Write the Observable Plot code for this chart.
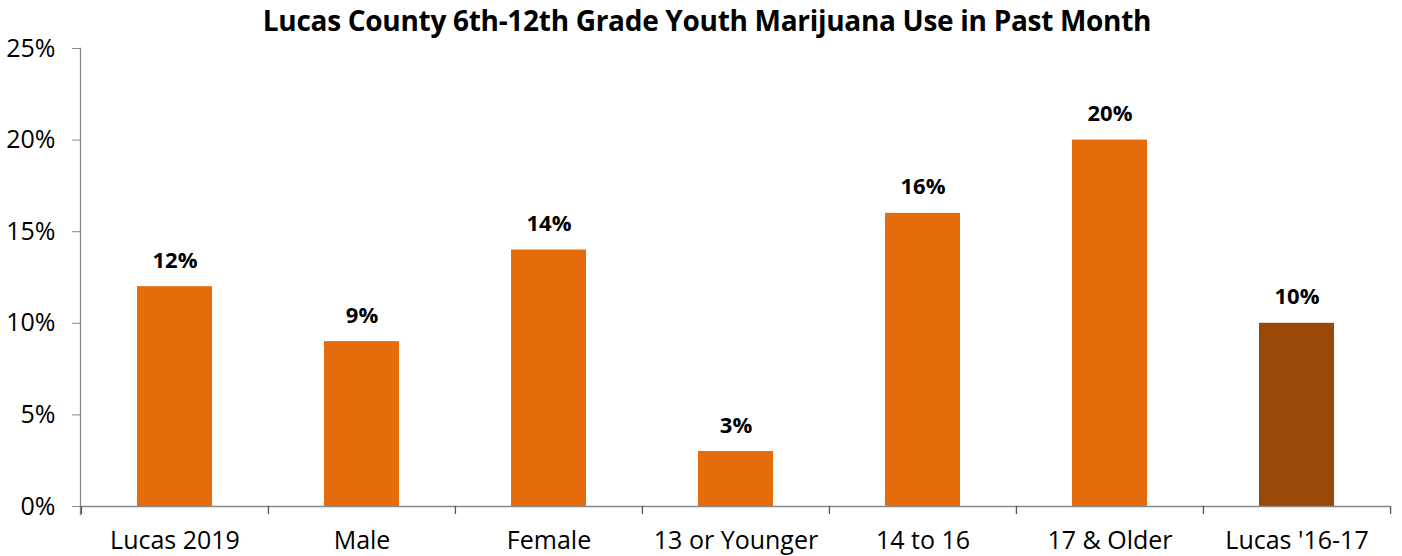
<!DOCTYPE html>
<html>
<head>
<meta charset="utf-8">
<script src="https://cdn.jsdelivr.net/npm/d3@7"></script>
<script src="https://cdn.jsdelivr.net/npm/@observablehq/plot@0.6"></script>
<style>
  html, body { margin: 0; padding: 0; background: #fff; }
  #wrap { position: relative; width: 1402px; height: 556px; }
  #title { position: absolute; top: 0; left: 0; width: 1402px; padding-left: 12px; box-sizing: border-box; text-align: center;
    line-height: 40px; font-family: "Open Sans", "Noto Sans", sans-serif; font-weight: 700; font-size: 28px; color: #000; letter-spacing: -0.3px; z-index: 1; }
</style>
</head>
<body>
<div id="wrap">
  <div id="title">Lucas County 6th-12th Grade Youth Marijuana Use in Past Month</div>
  <div id="chart"></div>
</div>
<script>
const categories = ["Lucas 2019", "Male", "Female", "13 or Younger", "14 to 16", "17 & Older", "Lucas '16-17"];
const values = [0.12, 0.09, 0.14, 0.03, 0.16, 0.20, 0.10];
const yTicks = [0, 0.05, 0.10, 0.15, 0.20, 0.25];

const data = categories.map((c, i) => ({category: c, value: values[i]}));
const orange = "#E46C0A", brown = "#984807";
const W = 1402, H = 556, mL = 80, mR = 12, mT = 48, mB = 50;
const step = (W - mL - mR) / categories.length;
const font = "'Open Sans', 'Noto Sans', sans-serif";

const chart = Plot.plot({
  width: W, height: H,
  marginLeft: mL, marginRight: mR, marginTop: mT, marginBottom: mB,
  style: {fontFamily: font, fontSize: "23px", color: "#000", background: "transparent"},
  x: {domain: categories, paddingInner: 0.6, paddingOuter: 0.3, label: null},
  y: {domain: [0, 0.25], label: null},
  marks: [
    Plot.barY(data, {x: "category", y: "value", fill: d => d.category === "Lucas '16-17" ? brown : orange}),
    Plot.ruleY([0], {stroke: "#888", strokeWidth: 1.3}),
    Plot.frame({anchor: "left", stroke: "#888", strokeWidth: 1.3, insetBottom: -8}),
    Plot.ruleX(categories, {x: d => d, y1: 0, y2: 0, insetBottom: -8, dx: -step / 2, stroke: "#555", strokeWidth: 1.3}),
    Plot.ruleX(categories.slice(-1), {x: d => d, y1: 0, y2: 0, insetBottom: -8, dx: step / 2, stroke: "#555", strokeWidth: 1.3}),
    Plot.axisY({ticks: yTicks, tickFormat: d3.format(".0%"), tickSize: 8, tickPadding: 17, stroke: "#888", fontSize: 25, label: null}),
    Plot.axisX({tickSize: 0, tickPadding: 25, fontSize: 25, label: null}),
    Plot.text(data, {x: "category", y: "value", text: d => d3.format(".0%")(d.value), dy: -26, fontWeight: "bold", fontSize: 22, fill: "#000"})
  ]
});
document.getElementById("chart").appendChild(chart);
</script>
</body>
</html>
